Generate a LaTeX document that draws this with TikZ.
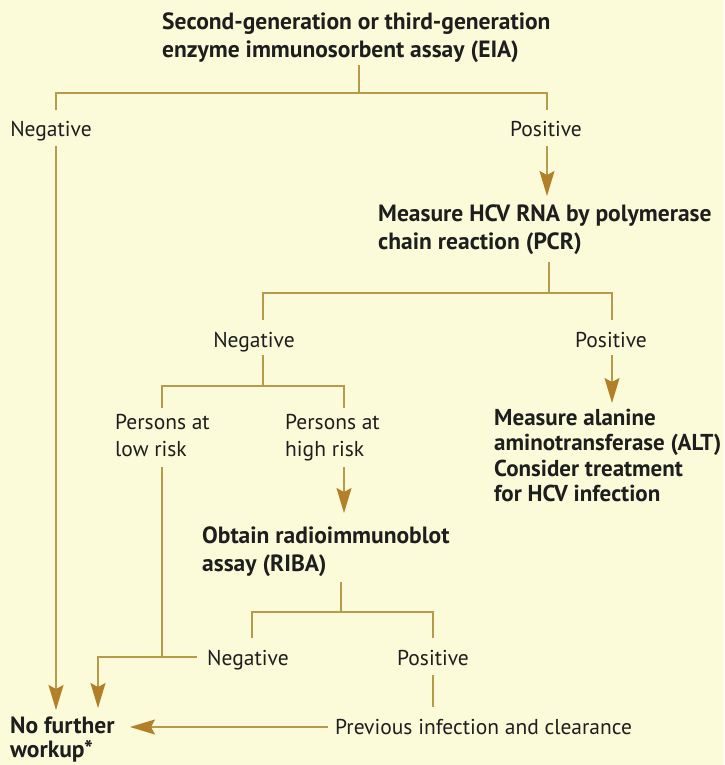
\documentclass[tikz,border=0pt]{standalone}
\usepackage{fontspec}
\setmainfont{PT Sans}
\usetikzlibrary{arrows.meta}
\definecolor{bg}{HTML}{FBFAD9}
\definecolor{lnc}{HTML}{B59B4C}
\definecolor{ahc}{HTML}{B3802A}
\definecolor{txc}{HTML}{1E1E1E}
\begin{document}
\begin{tikzpicture}[x=1pt,y=-1pt,
  lbl/.style={inner sep=0pt, text=txc, font=\fontsize{21.5}{27}\selectfont, align=left},
  hd/.style={inner sep=0pt, text=txc, font=\fontsize{23.5}{28}\selectfont\bfseries, align=left},
  altx/.style={inner sep=0pt, text=txc, font=\fontsize{23}{25.5}\selectfont\bfseries, align=left},
  nfx/.style={inner sep=0pt, text=txc, font=\fontsize{23.5}{24}\selectfont\bfseries, align=left},
  conn/.style={draw=lnc, line width=1.4pt},
  arr/.style={conn, -{Stealth[length=25pt,width=15pt,inset=4pt,color=ahc]}}]
\fill[bg] (0,0) rectangle (724,765);
\useasboundingbox (0,0) rectangle (724,765);

% texts
\node[hd, anchor=north west] (eia) at (162,12.5) {Second-generation or third-generation\\enzyme immunosorbent assay (EIA)};
\node[lbl, anchor=base] (neg1) at (51,136) {Negative};
\node[lbl, anchor=base] (pos1) at (546,136) {Positive};
\node[hd, anchor=north west] (pcr) at (378,204.5) {Measure HCV RNA by polymerase\\chain reaction (PCR)};
\node[lbl, anchor=base] (neg2) at (254,347) {Negative};
\node[lbl, anchor=base] (pos2) at (611,347) {Positive};
\node[lbl, anchor=north west] (low) at (115,414) {Persons at\\low risk};
\node[lbl, anchor=north west] (high) at (285,414) {Persons at\\high risk};
\node[altx, anchor=north west] (alt) at (494,408.5) {Measure alanine\\aminotransferase (ALT)\\Consider treatment\\for HCV infection};
\node[hd, anchor=north west] (riba) at (202,526.5) {Obtain radioimmunoblot\\assay (RIBA)};
\node[lbl, anchor=base west] (neg3) at (207,665) {Negative};
\node[lbl, anchor=base] (pos3) at (433,665) {Positive};
\node[lbl, anchor=base west] (prev) at (335,734) {Previous infection and clearance};
\node[nfx, anchor=north west] (nfw) at (10,716.5) {No further\\workup*};

% junction coordinates
\coordinate (e0) at (359,65);
\coordinate (e1) at (359,93);
\coordinate (eL) at (56,93);
\coordinate (eR) at (547,93);
\coordinate (eLd) at (56,110);
\coordinate (eRd) at (547,110);
\coordinate (n1s) at (56,146);
\coordinate (n1t) at (56,710);
\coordinate (p1s) at (547,146);
\coordinate (p1t) at (547,196);

\coordinate (c0) at (549,262);
\coordinate (c1) at (549,293);
\coordinate (cL) at (263,293);
\coordinate (cR) at (612,293);
\coordinate (cLd) at (263,320);
\coordinate (cRd) at (612,320);
\coordinate (n2s) at (263,355);
\coordinate (n2j) at (263,386);
\coordinate (rL) at (162,386);
\coordinate (rR) at (344,386);
\coordinate (rLd) at (162,408);
\coordinate (rRd) at (344,408);
\coordinate (p2s) at (612,355);
\coordinate (p2t) at (612,403);

\coordinate (ls) at (162,467);
\coordinate (lj) at (162,657);
\coordinate (hs) at (344,467);
\coordinate (ht) at (344,513);

\coordinate (b0) at (341,582);
\coordinate (b1) at (341,612);
\coordinate (bL) at (252,612);
\coordinate (bR) at (433,612);
\coordinate (bLd) at (252,638);
\coordinate (bRd) at (433,638);
\coordinate (n3s) at (197,657);
\coordinate (n3c) at (98,657);
\coordinate (n3t) at (98,708);
\coordinate (p3s) at (433,675);
\coordinate (p3e) at (433,707);
\coordinate (pvs) at (328,727);
\coordinate (pvt) at (130,727);

% connectors
\draw[conn] (e0) -- (e1);
\draw[conn] (eLd) -- (eL) -- (eR) -- (eRd);
\draw[arr] (n1s) -- (n1t);
\draw[arr] (p1s) -- (p1t);

\draw[conn] (c0) -- (c1);
\draw[conn] (cLd) -- (cL) -- (cR) -- (cRd);
\draw[conn] (n2s) -- (n2j);
\draw[conn] (rLd) -- (rL) -- (rR) -- (rRd);
\draw[arr] (p2s) -- (p2t);

\draw[conn] (ls) -- (lj);
\draw[arr] (hs) -- (ht);

\draw[conn] (b0) -- (b1);
\draw[conn] (bLd) -- (bL) -- (bR) -- (bRd);
\draw[arr] (n3s) -- (n3c) -- (n3t);
\draw[conn] (p3s) -- (p3e);
\draw[arr] (pvs) -- (pvt);
\end{tikzpicture}
\end{document}
